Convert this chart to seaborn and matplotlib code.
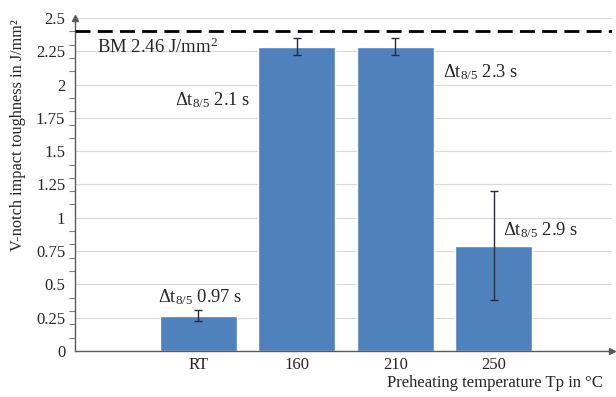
import matplotlib
matplotlib.use("Agg")
import matplotlib.pyplot as plt
import seaborn as sns
import pandas as pd
import numpy as np
from matplotlib.ticker import MultipleLocator, FuncFormatter

categories = ["RT", "160", "210", "250"]
toughness = [0.265, 2.285, 2.285, 0.79]
errors = [0.04, 0.065, 0.065, 0.41]
cooling_labels = ["0.97 s", "2.1 s", "2.3 s", "2.9 s"]
bm_value = 2.4
bm_label = "BM 2.46 J/mm$^{\\mathregular{2}}$"

sns.set_style("white")
plt.rcParams["font.family"] = ["Liberation Serif", "DejaVu Serif"]
plt.rcParams["mathtext.fontset"] = "custom"
plt.rcParams["mathtext.rm"] = "Liberation Serif"
plt.rcParams["mathtext.it"] = "Liberation Serif"

df = pd.DataFrame({"cat": categories, "val": toughness})

fig = plt.figure(figsize=(6.16, 3.97), dpi=100)
ax = fig.add_axes([0.1218, 0.1159, 0.8717, 0.8388])

sns.barplot(data=df, x="cat", y="val", order=categories, color="#4F81BD",
            saturation=1, width=0.78, ax=ax, errorbar=None, zorder=2)
ax.errorbar(np.arange(len(categories)), toughness, yerr=errors, fmt="none",
            ecolor="#2b2b3b", elinewidth=1, capsize=3, capthick=1, zorder=3)

ax.axhline(bm_value, color="black", lw=2, dashes=(5.4, 2.6), zorder=4)

ax.set_xlim(-1.25, 4.2)
ax.set_ylim(0, 2.5)
ax.yaxis.set_major_locator(MultipleLocator(0.25))
ax.yaxis.set_minor_locator(MultipleLocator(0.1))
ax.yaxis.set_major_formatter(FuncFormatter(lambda v, p: "%g" % round(v, 2)))
ax.yaxis.grid(True, which="major", color="#d9d9d9", lw=0.8, zorder=0)
ax.set_axisbelow(True)
ax.tick_params(axis="y", which="major", length=0, labelsize=12, pad=7)
ax.tick_params(axis="y", which="minor", left=True, length=4, color="#808080", width=0.8)
ax.tick_params(axis="x", length=0, labelsize=12, pad=4)

for s in ["top", "right"]:
    ax.spines[s].set_visible(False)
for s in ["left", "bottom"]:
    ax.spines[s].set_color("#595959")
    ax.spines[s].set_linewidth(1)

ax.plot(0, 1, marker="^", transform=ax.transAxes, color="#595959", ms=4, clip_on=False)
ax.plot(1, 0, marker=">", transform=ax.transAxes, color="#595959", ms=4, clip_on=False)

ax.set_xlabel("")
ax.set_ylabel("")
fig.text(0.03, 0.66, "V-notch impact toughness in J/mm²", rotation=90,
         ha="center", va="center", fontsize=11.7)
fig.text(0.978, 0.016, "Preheating temperature Tp in °C", ha="right", va="bottom", fontsize=12)

ax.text(-1.03, 2.28, bm_label, fontsize=13.5, va="center", ha="left")
pos = [(-0.406, 0.405), (-0.233, 1.884), (2.487, 2.095), (3.097, 0.908)]
for (x, y), lab in zip(pos, cooling_labels):
    ax.text(x, y, r"$\Delta$t$_{\mathregular{8/5}}$ " + lab, fontsize=13.3, va="center", ha="left")

fig.savefig("out.png", dpi=100)
